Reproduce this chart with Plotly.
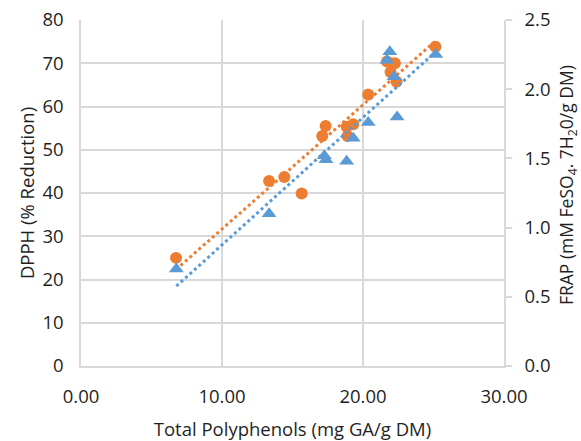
import numpy as np
import plotly.graph_objects as go

# DPPH (% reduction) vs total polyphenols
dpph_x = [6.74, 13.34, 14.42, 15.65, 17.11, 17.35, 18.84, 18.90, 19.31, 20.37, 21.70, 22.26, 21.95, 22.38, 25.14]
dpph_y = [25.0, 42.8, 43.7, 39.9, 53.2, 55.5, 55.3, 53.2, 55.9, 62.8, 70.4, 70.0, 68.0, 65.7, 73.8]

# FRAP vs total polyphenols
frap_x = [6.76, 13.34, 17.26, 17.37, 18.84, 19.31, 20.37, 21.90, 21.70, 22.20, 22.42, 25.16]
frap_y = [0.70, 1.10, 1.52, 1.49, 1.48, 1.645, 1.76, 2.27, 2.21, 2.09, 1.80, 2.25]

x_ticks = [0, 10, 20, 30]
y_ticks = [0, 10, 20, 30, 40, 50, 60, 70, 80]
y2_ticks = [0.0, 0.5, 1.0, 1.5, 2.0, 2.5]

ORANGE = "#ED7D31"
BLUE = "#5B9BD5"
GRID = "#D9D9D9"
TXT = "#1f1f1f"
FONT = "Open Sans"
FS = 18.5


def trend(xs, ys):
    m, b = np.polyfit(xs, ys, 1)
    xx = np.array([min(xs), max(xs)])
    return xx, m * xx + b


fig = go.Figure()
fig.add_trace(go.Scatter(x=dpph_x, y=dpph_y, mode="markers", yaxis="y",
                         marker=dict(symbol="circle", size=12, color=ORANGE), showlegend=False))
fig.add_trace(go.Scatter(x=frap_x, y=frap_y, mode="markers", yaxis="y2",
                         marker=dict(symbol="triangle-up", size=13, color=BLUE), showlegend=False))
tx, ty = trend(dpph_x, dpph_y)
fig.add_trace(go.Scatter(x=tx, y=ty, mode="lines", yaxis="y",
                         line=dict(color=ORANGE, width=3, dash="3px,3px"), showlegend=False))
tx2, ty2 = trend(frap_x, frap_y)
fig.add_trace(go.Scatter(x=tx2, y=ty2, mode="lines", yaxis="y2",
                         line=dict(color=BLUE, width=3, dash="3px,3px"), showlegend=False))

fig.update_layout(
    width=581, height=441,
    margin=dict(l=81, r=77, t=20, b=75),
    paper_bgcolor="white", plot_bgcolor="white",
    font=dict(family=FONT, size=FS, color=TXT),
    xaxis=dict(range=[0, 30], tickvals=x_ticks, tickformat=".2f", automargin=False,
               showgrid=True, gridcolor=GRID, gridwidth=1.5,
               showline=True, linecolor=GRID, linewidth=1.5,
               zeroline=False, ticks="", ticklabelstandoff=13,
               title=dict(text="Total Polyphenols (mg GA/g DM)", standoff=17,
                          font=dict(size=FS, family=FONT, color=TXT))),
    yaxis=dict(range=[0, 80], tickvals=y_ticks, automargin=False,
               showgrid=True, gridcolor=GRID, gridwidth=1.5,
               showline=True, linecolor=GRID, linewidth=1.5,
               zeroline=False, ticks="", ticklabelstandoff=12,
               title=dict(text="DPPH (% Reduction)", standoff=3,
                          font=dict(size=FS, family=FONT, color=TXT))),
    yaxis2=dict(range=[0, 2.5], tickvals=y2_ticks, tickformat=".1f", automargin=False,
                overlaying="y", side="right",
                showgrid=False, showline=True, linecolor=GRID, linewidth=1.5,
                zeroline=False, ticks="outside", ticklen=6, tickcolor=GRID, tickwidth=1.5,
                ticklabelstandoff=9),
    annotations=[dict(text="FRAP (mM FeSO<sub>4</sub>. 7H<sub>2</sub>0/g DM)",
                      xref="paper", yref="paper", x=1, y=0.523, xshift=63,
                      xanchor="center", yanchor="middle", textangle=-90, showarrow=False,
                      font=dict(size=17.5, family=FONT, color=TXT))],
)

fig.write_html("out.html")
